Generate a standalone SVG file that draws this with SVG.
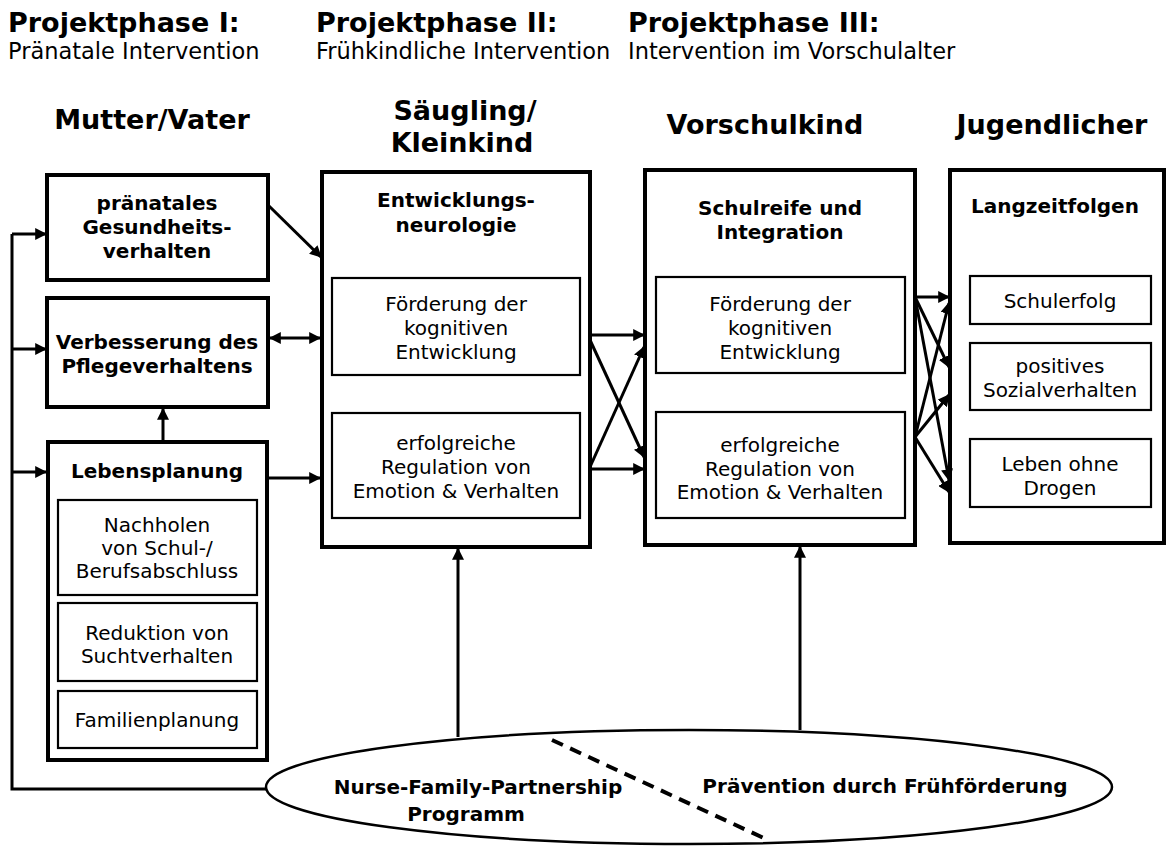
<svg xmlns="http://www.w3.org/2000/svg" width="1168" height="846" viewBox="0 0 1168 846">
<defs>
<marker id="ah" viewBox="0 0 10 10" refX="9" refY="5" markerWidth="4" markerHeight="4" orient="auto-start-reverse" markerUnits="strokeWidth">
<path d="M0,0 L10,5 L0,10 z" fill="#000"/>
</marker>
<style>
.outer{fill:#fff;stroke:#000;stroke-width:4}
.inner{fill:#fff;stroke:#000;stroke-width:2.2}
.b{font-family:"DejaVu Sans",Verdana,sans-serif;font-weight:bold;fill:#000}
.r{font-family:"DejaVu Sans",Verdana,sans-serif;fill:#000}
.ph{font-size:27px}
.phs{font-size:22.5px}
.col{font-size:27px}
.lb{font-size:20px;text-anchor:middle}
.tx{font-size:20px;text-anchor:middle}
.c{fill:none;stroke:#000;stroke-width:3}
.ca{fill:none;stroke:#000;stroke-width:3;marker-end:url(#ah)}
</style>
</defs>
<rect width="1168" height="846" fill="#fff"/>
<g id="headers">
<text class="b ph" x="8" y="32">Projektphase I:</text>
<text class="r phs" x="8" y="59">Pränatale Intervention</text>
<text class="b ph" x="316" y="32">Projektphase II:</text>
<text class="r phs" x="316" y="59">Frühkindliche Intervention</text>
<text class="b ph" x="628" y="32">Projektphase III:</text>
<text class="r phs" x="628" y="59">Intervention im Vorschulalter</text>
<text class="b col" x="152" y="129" text-anchor="middle">Mutter/Vater</text>
<text class="b col" x="465" y="120" text-anchor="middle">Säugling/</text>
<text class="b col" x="462" y="152" text-anchor="middle">Kleinkind</text>
<text class="b col" x="765" y="134" text-anchor="middle">Vorschulkind</text>
<text class="b col" x="1052" y="134" text-anchor="middle">Jugendlicher</text>
</g>
<g id="node-praenatal">
<rect class="outer" x="47" y="175" width="221" height="105"/>
<text class="b lb" x="157" y="210">pränatales</text>
<text class="b lb" x="157" y="234">Gesundheits-</text>
<text class="b lb" x="157" y="258">verhalten</text>
</g>
<g id="node-pflege">
<rect class="outer" x="47" y="298" width="221" height="109"/>
<text class="b lb" x="157" y="349">Verbesserung des</text>
<text class="b lb" x="157" y="373">Pflegeverhaltens</text>
</g>
<g id="node-lebensplanung">
<rect class="outer" x="48" y="442" width="219" height="318"/>
<text class="b lb" x="157" y="478">Lebensplanung</text>
<rect class="inner" x="58" y="500" width="199" height="95"/>
<text class="r tx" x="157" y="532">Nachholen</text>
<text class="r tx" x="157" y="555">von Schul-/</text>
<text class="r tx" x="157" y="578">Berufsabschluss</text>
<rect class="inner" x="58" y="603" width="199" height="78"/>
<text class="r tx" x="157" y="640">Reduktion von</text>
<text class="r tx" x="157" y="663">Suchtverhalten</text>
<rect class="inner" x="58" y="691" width="199" height="57"/>
<text class="r tx" x="157" y="727">Familienplanung</text>
</g>
<g id="node-saeugling">
<rect class="outer" x="322" y="172" width="268" height="375"/>
<text class="b lb" x="456" y="207">Entwicklungs-</text>
<text class="b lb" x="456" y="232">neurologie</text>
<rect class="inner" x="332" y="278" width="248" height="97"/>
<text class="r tx" x="456" y="311">Förderung der</text>
<text class="r tx" x="456" y="335">kognitiven</text>
<text class="r tx" x="456" y="359">Entwicklung</text>
<rect class="inner" x="332" y="413" width="248" height="105"/>
<text class="r tx" x="456" y="450">erfolgreiche</text>
<text class="r tx" x="456" y="474">Regulation von</text>
<text class="r tx" x="456" y="498">Emotion &amp; Verhalten</text>
</g>
<g id="node-vorschul">
<rect class="outer" x="645" y="170" width="270" height="375"/>
<text class="b lb" x="780" y="215">Schulreife und</text>
<text class="b lb" x="780" y="239">Integration</text>
<rect class="inner" x="656" y="277" width="249" height="96"/>
<text class="r tx" x="780" y="311">Förderung der</text>
<text class="r tx" x="780" y="335">kognitiven</text>
<text class="r tx" x="780" y="359">Entwicklung</text>
<rect class="inner" x="656" y="412" width="249" height="106"/>
<text class="r tx" x="780" y="452">erfolgreiche</text>
<text class="r tx" x="780" y="476">Regulation von</text>
<text class="r tx" x="780" y="499">Emotion &amp; Verhalten</text>
</g>
<g id="node-jugend">
<rect class="outer" x="950" y="170" width="214" height="373"/>
<text class="b lb" x="1055" y="213">Langzeitfolgen</text>
<rect class="inner" x="970" y="276" width="181" height="48"/>
<text class="r tx" x="1060" y="308">Schulerfolg</text>
<rect class="inner" x="970" y="343" width="181" height="67"/>
<text class="r tx" x="1060" y="373">positives</text>
<text class="r tx" x="1060" y="397">Sozialverhalten</text>
<rect class="inner" x="970" y="439" width="181" height="68"/>
<text class="r tx" x="1060" y="471">Leben ohne</text>
<text class="r tx" x="1060" y="495">Drogen</text>
</g>
<g id="node-programm">
<ellipse cx="689" cy="787" rx="423" ry="57" fill="#fff" stroke="#000" stroke-width="2.5"/>
<line x1="552" y1="740" x2="768" y2="840" stroke="#000" stroke-width="4" stroke-dasharray="12 8"/>
<text class="b lb" x="478" y="794">Nurse-Family-Partnership</text>
<text class="b lb" x="466" y="821">Programm</text>
<text class="b lb" x="885" y="793">Prävention durch Frühförderung</text>
</g>
<g id="connectors">
<polyline class="c" points="266,789 12,789 12,234"/>
<line class="ca" x1="12" y1="234" x2="46" y2="234"/>
<line class="ca" x1="12" y1="349" x2="46" y2="349"/>
<line class="ca" x1="12" y1="472" x2="46" y2="472"/>
<line class="ca" x1="163" y1="442" x2="163" y2="409"/>
<line class="ca" x1="268" y1="205" x2="321" y2="257"/>
<line class="ca" x1="270" y1="338" x2="320" y2="338" style="marker-start:url(#ah)"/>
<line class="ca" x1="268" y1="478" x2="320" y2="478"/>
<line class="ca" x1="590" y1="335" x2="644" y2="335"/>
<line class="ca" x1="590" y1="340" x2="644" y2="457"/>
<line class="ca" x1="590" y1="467" x2="644" y2="347"/>
<line class="ca" x1="590" y1="469" x2="644" y2="469"/>
<line class="ca" x1="915" y1="297" x2="949" y2="297"/>
<line class="ca" x1="915" y1="297" x2="949" y2="367"/>
<line class="ca" x1="915" y1="297" x2="949" y2="480"/>
<line class="ca" x1="915" y1="437" x2="949" y2="303"/>
<line class="ca" x1="915" y1="437" x2="949" y2="395"/>
<line class="ca" x1="915" y1="437" x2="949" y2="492"/>
<line class="ca" x1="458" y1="737" x2="458" y2="549"/>
<line class="ca" x1="800" y1="730" x2="800" y2="547"/>
</g>
</svg>
